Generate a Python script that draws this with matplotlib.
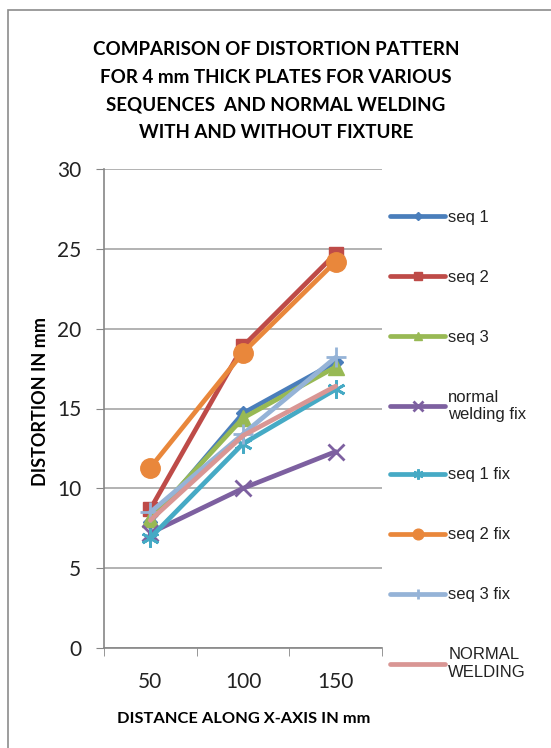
import matplotlib
matplotlib.use("Agg")
import matplotlib.pyplot as plt
from matplotlib.patches import Rectangle

categories = ["50", "100", "150"]
series_names = ["seq 1", "seq 2", "seq 3", "normal\nwelding fix", "seq 1 fix",
                "seq 2 fix", "seq 3 fix", "NORMAL\nWELDING"]
seq1 = [7.9, 14.7, 17.9]
seq2 = [8.7, 18.9, 24.7]
seq3 = [8.1, 14.4, 17.6]
normal_welding_fix = [7.2, 10.0, 12.3]
seq1_fix = [6.9, 12.8, 16.2]
seq2_fix = [11.3, 18.5, 24.2]
seq3_fix = [8.5, 13.4, 18.2]
normal_welding = [8.0, 13.3, 16.4]

values = [seq1, seq2, seq3, normal_welding_fix, seq1_fix, seq2_fix, seq3_fix, normal_welding]
colors = ["#4A7EBB", "#BE4B48", "#98B954", "#7D60A0", "#46AAC5", "#E9873B", "#95B3D7", "#D99694"]
markers = ["D", "s", "^", "x", (6, 2, 0), "o", "+", None]
msizes = [7, 10, 11, 12, 13, 14, 14, 0]

W, H = 551, 748
fig = plt.figure(figsize=(W / 100, H / 100), dpi=100)
fig.patches.append(Rectangle((8 / W, -0.01), 1.0, 1 - 10 / H + 0.01, transform=fig.transFigure,
                             fill=False, edgecolor="#8C8C8C", linewidth=1.2))

ax = fig.add_axes([104 / W, 1 - 648 / H, (382 - 104) / W, (648 - 169) / H])
x = list(range(len(categories)))
handles = []
for name, vals, c, m, ms in zip(series_names, values, colors, markers, msizes):
    mew = 2 if m in ("x", "+", (6, 2, 0)) else 1
    h, = ax.plot(x, vals, color=c, linewidth=3.4, marker=m, markersize=ms,
                 markeredgewidth=mew, markeredgecolor=c, markerfacecolor=c,
                 label=name, solid_capstyle="round")
    handles.append(h)

ax.set_xlim(-0.5, 2.5)
ax.set_ylim(0, 30)
ax.set_yticks(range(0, 31, 5))
ax.set_xticks(x)
ax.set_xticklabels(categories)
ax.set_xticks([-0.5, 0.5, 1.5, 2.5], minor=True)
ax.tick_params(axis="x", which="major", length=0, pad=17, labelsize=15, labelcolor="#222222")
ax.tick_params(axis="x", which="minor", length=5.5, color="#868686", direction="out")
ax.tick_params(axis="y", length=6, color="#868686", direction="out", pad=10.5, labelsize=15,
               labelcolor="#222222")
for lbl in ax.get_xticklabels() + ax.get_yticklabels():
    lbl.set_family("Lato")
ax.grid(axis="y", color="#A6A6A6", linewidth=1.2)
ax.set_axisbelow(True)
for s in ["top", "right"]:
    ax.spines[s].set_visible(False)
ax.spines["left"].set_color("#868686")
ax.spines["bottom"].set_color("#868686")
ax.spines["left"].set_linewidth(1.2)
ax.spines["bottom"].set_linewidth(1.2)

fig.text(41 / W, 1 - 401 / H, "DISTORTION IN mm", rotation=90, ha="center", va="center",
         fontsize=13, fontweight="bold", family="Lato")
fig.text(244 / W, 1 - 719 / H, "DISTANCE ALONG X-AXIS IN mm", ha="center", va="center",
         fontsize=11.8, fontweight="bold", family="Lato")

fig.text(276 / W, 1 - 91 / H,
         "COMPARISON OF DISTORTION PATTERN\nFOR 4 mm THICK PLATES FOR VARIOUS\n"
         "SEQUENCES  AND NORMAL WELDING\nWITH AND WITHOUT FIXTURE",
         ha="center", va="center", fontsize=13.5, fontweight="bold", family="Lato",
         linespacing=1.75)

leg = fig.legend(handles=handles, loc="upper left", bbox_to_anchor=(375 / W, 1 - 195 / H),
                 frameon=False, handlelength=3.3, handletextpad=0.2,
                 labelspacing=2.7, markerscale=0.55, prop={"family": "Liberation Sans", "size": 12})
for t in leg.get_texts():
    t.set_color("#222222")

fig.savefig("out.png", dpi=100)
